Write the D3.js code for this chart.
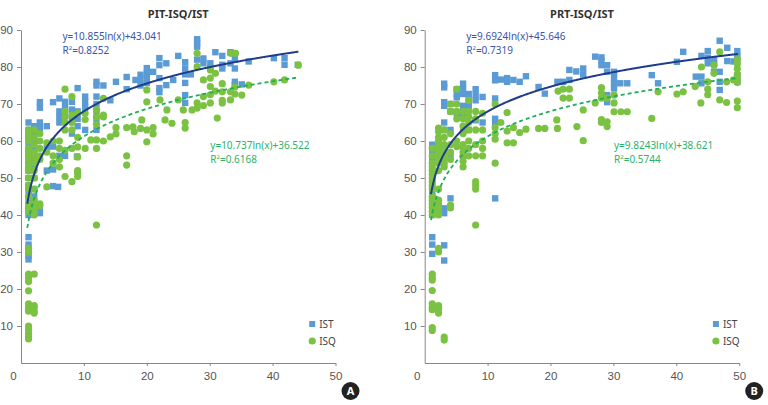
<!DOCTYPE html>
<html>
<head>
<meta charset="utf-8">
<script src="https://cdn.jsdelivr.net/npm/d3@7"></script>
<style>
  body { margin: 0; background: #fff; }
  svg { display: block; font-family: "Noto Sans", "Open Sans", sans-serif; }
  .tick text { fill: #555; font-size: 11.5px; }
  .tick line, .domain { stroke: #888; }
  .title { font-weight: bold; font-size: 11px; fill: #333; }
  .leg { font-size: 10px; fill: #444; }
</style>
</head>
<body>
<svg id="chart" width="768" height="405"></svg>
<script>
// panel titles and tick values
const titles = ["PIT-ISQ/IST", "PRT-ISQ/IST"];
const badges = ["A", "B"];
const xTicks = [0, 10, 20, 30, 40, 50];
const yTicks = [10, 20, 30, 40, 50, 60, 70, 80, 90];
const seriesNames = ["IST", "ISQ"];

// fitted log trend lines: [a, b, R2, xEnd]   y = a*ln(x)+b
const fitPIT_IST = [10.855, 43.041, "0.8252", 44.1];
const fitPIT_ISQ = [10.737, 36.522, "0.6168", 44.1];
const fitPRT_IST = [9.6924, 45.646, "0.7319", 49.8];
const fitPRT_ISQ = [9.8243, 38.621, "0.5744", 49.8];

// [x, y]
const pitIST = [
  [1.2,65],[1.2,63],[1.2,61],[1.2,59],[1.2,57],[1.2,55],[1.2,52],[1.2,50],[1.2,48],[1.2,46],[1.2,44],[1.2,42],[1.2,41],[1.2,40],
  [1.2,34],[1.2,32],[1.2,31],[1.2,30],[1.2,29],[1.2,28],
  [2.1,64],[2.1,62],[2.1,60],[2.1,58],[2.1,56],[2.1,53],[2.1,50],[2.1,47],[2.1,45],[2.1,43],
  [3,70.5],[3,69],[3,65],[3,63.5],[3,41],[3,40.5],
  [4.1,64],[4.1,58],[4.1,52],
  [5.1,70.5],[5.1,58.5],[5.1,52.3],[5.1,47.8],[5.9,47.6],
  [6.1,71.5],[6.1,68],[6.1,66.5],[6.1,65],[6.1,56],
  [7,70.6],[7,69],[7,67],[7,56],
  [8.1,70.6],[8.1,68.5],[8.1,66],[8.1,62],
  [9,74.3],[9,68],[9,66],[9,64],[8.9,55.8],
  [10.2,72],[10.2,70.5],[10.2,69],[10.2,63],
  [12,76],[12,75],[12,72],[12,70],[12,68],[12,66],[12,63],
  [13.1,75],[14.2,71],[15.1,76],[16.8,77.3],[16.8,74],[18.2,76.5],
  [19,77.9],[19,76.5],[19,75],[20,79.7],[20,78.3],[20,77],[20,75.7],[21,78.7],
  [22,82.4],[22,80.5],[22,77],[22,74.3],[22,73.2],[23.1,81],[23.1,75.1],[24.2,76.5],
  [25,83],[26.1,81.3],[26.1,79.6],[26.1,78],[26.1,75.7],[26.1,72.4],[26.1,70.3],[27,78],
  [28,87.5],[28,86.5],[28,85.5],[28,82],[29,82.3],[29,81],[30.1,81],[30.1,79.7],[30.9,84],
  [32,83],[32,80.6],[32,79.6],[33.3,84],[33.3,81],[34,83.6],[34,82],[34,79.6],[34,76],[34,75.1],
  [35.1,75.3],[36.2,81.5],[40.2,82.4],[41.9,82.4],[41.9,80.6],[44,80.6]
];
const pitISQ = [
  [1.2,63],[1.2,62],[1.2,61],[1.2,60],[1.2,58],[1.2,57],[1.2,56],[1.2,55],[1.2,54],[1.2,53],[1.2,52],[1.2,50],
  [1.2,48],[1.2,47],[1.2,45],[1.2,43],[1.2,42],[1.2,41],
  [1.2,31],[1.2,30],[1.2,24],[1.2,23],[1.2,22],[1.2,19.5],[1.2,16],[1.2,15],[1.2,14.5],[1.2,14],
  [1.2,10],[1.2,9],[1.2,8],[1.2,7],[1.2,6.5],
  [2.1,63],[2.1,61],[2.1,59],[2.1,57],[2.1,56],[2.1,55],[2.1,54],[2.1,52],[2.1,50],[2.1,47],
  [2.1,44],[2.1,43],[2.1,42],[2.1,41],[2.1,40],[2.1,24],[2.1,15.5],[2.1,15],[2.1,14],[2.1,13.5],
  [3,62],[3,60],[3,58],[3,56],[3,55],[3,43],[3,42.5],
  [4.1,59.5],[4.1,57],[4.1,47.6],
  [5.1,60],[5.1,56],[5.1,54],
  [6.1,60],[6.1,58],[6.1,55],[6.1,53],
  [7,74],[7,68],[7,66.5],[7,65],[7,63],[7,57.5],[7,50.4],
  [8.1,72],[8.1,67],[8.1,65],[8.1,63],[8.1,58],[8.1,49],
  [9,67.5],[9,61],[9,58.4],[9,55.7],[9,52],[9,51.3],[9,50.4],
  [10.2,67.5],[10.2,65.8],[10.2,58],[11.1,60.3],
  [12,68.5],[12,66.5],[12,64.5],[12,60.3],[12,58],[12,37.3],
  [13.1,71.5],[13.1,67],[13.1,66.5],[13.1,60],[14.2,61.1],[15.1,63.6],[15.1,61.9],
  [16.8,63.6],[16.8,56],[16.8,53.5],[17.8,63.8],[18,62.5],[19.2,65.7],[19,63.4],
  [20,73.8],[20,70.6],[20,63],[20,59.8],[21,63.6],[21,61.9],
  [22.1,71.1],[22.9,65.7],[23.2,68.4],[24,64.8],[25,71.1],[25.8,68.4],[26.1,65],[26.1,63.5],[27.2,68.4],
  [28,83.7],[28,80.1],[28,70.3],[28,68.9],[29,76.5],[29,72],[29,69.6],
  [30.1,79.2],[30.1,77],[30.1,74.7],[30.1,72.5],[30.1,70.3],[30.9,78.3],[30.9,73.5],[31.2,66.2],
  [32,75.5],[32,73.3],[32,71],[32,70.3],[33.3,83.7],[34.1,83.7],[33.3,73.3],[33.3,71.1],
  [34,74.6],[34,72.7],[35.1,72.4],[36.2,75.1],[40.2,76],[41.9,76.5],[44.1,80.5]
];
const prtIST = [
  [1.2,59],[1.2,57],[1.2,55],[1.2,53],[1.2,51],[1.2,50],[1.2,48],[1.2,46],[1.2,45],[1.2,44],[1.2,43],[1.2,41],[1.2,40],
  [1.2,34],[1.2,32],[1.2,29.5],
  [2.2,59.5],[2.2,58],
  [3.1,75.5],[3.1,74.5],[3.1,70.5],[3.1,69.5],[3.1,65],[3.1,63],[3.1,56],[3.1,41.8],[3.1,40.5],[3.1,31.8],[3.1,27.7],
  [4.1,70],[4.1,68],[4.1,63],[4.1,56],[4.1,44.5],
  [5.1,74],[5.1,72.7],[5.1,71.8],[5.1,67.5],
  [6.1,75.5],[6.1,74],[6.1,72.7],[6.1,69.5],[6.1,68],[6.1,66.8],[6.1,62.5],[6.1,56],
  [7,72.7],[7,71],[7,69.5],[7,63],
  [8.1,74],[8.1,72.5],[8.1,71],[8.1,65.6],
  [9.2,71.9],[9.2,65],
  [11.2,77.8],[11.2,76.4],[11.2,71.5],[11.2,66],[11.2,65],[11.2,44.5],
  [12.1,76.6],[13.1,77],[13.1,76],[14.1,76.5],[15.1,76],[16.1,77.5],
  [18.1,74.6],[19.1,72.8],[21.1,76],[22,76],[23,79.2],[23,76.5],[24.1,78.8],[25.2,79.6],[25.2,78],
  [27.1,82.8],[28.1,82.6],[28.1,81.6],[28.1,80.5],[29,80.5],[29,78.7],[29,72.4],[29,70.5],
  [30.1,78.7],[30.1,77],[30.1,75.5],[30.1,74.2],[31.1,75.6],[32.2,75.6],
  [36.1,77.8],[37.1,75.6],[40.1,81.4],[41.1,84.1],
  [43.1,77.4],[44,83],[44,77.4],[44,75.6],[45,84.3],[45,82.5],[45,81],[46,81.9],[46,81],[46,78.7],
  [46.9,87.1],[46.9,78.7],[46.9,76],[46.9,73.8],[48.1,85.2],[48.1,81.6],[49.1,81.5],
  [49.7,84.3],[49.7,83],[49.7,81.7],[49.7,77.8],[49.7,76]
];
const prtISQ = [
  [1.2,58],[1.2,56],[1.2,54],[1.2,53],[1.2,52],[1.2,51],[1.2,50],[1.2,49],[1.2,48],[1.2,47],[1.2,45],[1.2,44],
  [1.2,43],[1.2,42],[1.2,41],[1.2,40],[1.2,24],[1.2,23],[1.2,22.4],[1.2,19.6],[1.2,16],[1.2,15],[1.2,14.4],[1.2,9.6],[1.2,8.8],
  [2.2,63.5],[2.2,62.5],[2.2,61],[2.2,60],[2.2,59],[2.2,58],[2.2,57],[2.2,56],[2.2,55],[2.2,54],[2.2,52],[2.2,47],
  [2.2,44],[2.2,43],[2.2,42],[2.2,41],[2.2,40],[2.2,31],[2.2,30],[2.2,15.5],[2.2,15],[2.2,14.5],[2.2,13.5],
  [3.1,63],[3.1,61],[3.1,59],[3.1,58],[3.1,57],[3.1,56],[3.1,55],[3.1,54],[3.1,53],[3.1,7],[3.1,6.2],
  [4.1,70],[4.1,68],[4.1,62],[4.1,59],[4.1,57],[4.1,55],[4.1,42.7],[4.1,41.9],
  [5.1,74],[5.1,70],[5.1,68],[5.1,66],[5.1,60],[5.1,58.5],
  [6.1,68],[6.1,66],[6.1,64],[6.1,62],[6.1,59],[6.1,58],[6.1,57],[6.1,56],[6.1,54.5],[6.1,53],
  [7,71],[7,68],[7,66.5],[7,65],[7,63],[7,60],[7,58],[7,56],
  [8.1,68],[8.1,66],[8.1,63],[8.1,59],[8.1,56],[8.1,49],[8.1,48],[8.1,47],[8.1,37.3],
  [9.2,67.5],[9.2,63],[9.2,60],[9.2,58],[9.2,56],
  [11.2,70],[11.2,63.6],[11.2,62],[11.2,60.5],[11.2,54],
  [12.1,65],[13.1,67.7],[13.1,62.7],[13.1,59.5],[14.1,63.6],[14.1,59.5],[15.1,62.3],[16.1,63.2],
  [18.1,63.4],[19.1,63.4],[21,65.7],[21.1,63.4],[21.2,73.5],[22,74],[22,71.6],[23,74],[23,71.6],
  [24.2,63.9],[25.2,68.4],[25.2,60.1],[27.1,70.3],[28.1,74.4],[28.1,73],[28.1,71.6],[28.1,65.8],[28.1,65],
  [29,71.6],[29,65.2],[29,63.9],[30.1,72.4],[30.1,70.3],[30.1,67.9],[31.2,67.9],[32.2,67.9],
  [36.1,66.1],[37.1,73.3],[40.1,72.7],[41.1,73.3],[43,74.7],[44,80],[43.9,70.3],
  [45,76],[45,74],[45,72.5],[46,80.5],[46,78.3],[46.9,84.1],[46.9,71.1],
  [48,76],[48,70.4],[49.1,76.5],
  [49.7,82],[49.7,80.8],[49.7,79.5],[49.7,78],[49.7,76.8],[49.7,75.8],[49.7,70.8],[49.7,69]
];

const svg = d3.select("#chart");
const blue = "#5b9bd5";
const green = "#7cc242";
const lineBlue = "#1f3d8c";
const lineGreen = "#1fae5a";

function drawPanel(x0, title, badge, ist, isq, fitIst, fitIsq) {
  const xScale = d3.scaleLinear().domain([0, 50]).range([x0, x0 + 314.5]);
  const yScale = d3.scaleLinear().domain([0, 90]).range([363, 30]);
  const g = svg.append("g");

  // axes
  const xAxisG = g.append("g")
    .attr("transform", `translate(0,${yScale(0)})`)
    .call(d3.axisBottom(xScale).tickValues(xTicks).tickSize(3).tickPadding(6).tickSizeOuter(0));
  xAxisG.selectAll(".tick text").filter((d) => d === 0).attr("dx", -8);
  xAxisG.selectAll(".tick").filter((d) => d === 0).select("line").remove();

  g.append("g")
    .attr("transform", `translate(${xScale(0)},0)`)
    .call(d3.axisLeft(yScale).tickValues(yTicks).tickSize(4).tickPadding(4).tickSizeOuter(0));

  g.append("text").attr("class", "title")
    .attr("x", xScale(25)).attr("y", 18).attr("text-anchor", "middle").text(title);

  // points
  g.selectAll("rect.ist").data(ist).enter().append("rect")
    .attr("class", "ist")
    .attr("x", (d) => xScale(d[0]) - 3.2)
    .attr("y", (d) => yScale(d[1]) - 3.2)
    .attr("width", 6.4).attr("height", 6.4)
    .attr("fill", blue);

  g.selectAll("circle.isq").data(isq).enter().append("circle")
    .attr("class", "isq")
    .attr("cx", (d) => xScale(d[0]))
    .attr("cy", (d) => yScale(d[1]))
    .attr("r", 3.6)
    .attr("fill", green);

  // trend lines
  const curve = (fit) => d3.range(1, fit[3] + 0.001, 0.1).map((x) => [x, fit[0] * Math.log(x) + fit[1]]);
  const line = d3.line().x((d) => xScale(d[0])).y((d) => yScale(d[1]));
  g.append("path").attr("d", line(curve(fitIst)))
    .attr("fill", "none").attr("stroke", lineBlue).attr("stroke-width", 2);
  g.append("path").attr("d", line(curve(fitIsq)))
    .attr("fill", "none").attr("stroke", lineGreen).attr("stroke-width", 1.8)
    .attr("stroke-dasharray", "4,3");

  // equations
  const eq = (fit, x, y, color) => {
    const t = g.append("text").attr("x", x).attr("y", y).attr("fill", color).attr("font-size", "10px");
    t.append("tspan").text(`y=${fit[0]}ln(x)+${fit[1]}`);
    const r = t.append("tspan").attr("x", x).attr("dy", 14);
    r.append("tspan").text("R");
    r.append("tspan").attr("font-size", "6px").attr("dy", -4).text("2");
    r.append("tspan").attr("dy", 4).text("=" + fit[2]);
  };
  eq(fitIst, xScale(6.6), 40, "#3b55a8");
  eq(fitIsq, xScale(30.1), 149, "#2cb26a");

  // legend
  const lx = xScale(46.3);
  g.append("rect").attr("x", lx - 3).attr("y", 321).attr("width", 6).attr("height", 6).attr("fill", blue);
  g.append("text").attr("class", "leg").attr("x", lx + 7).attr("y", 327.5).text(seriesNames[0]);
  g.append("circle").attr("cx", lx).attr("cy", 341).attr("r", 3.6).attr("fill", green);
  g.append("text").attr("class", "leg").attr("x", lx + 7).attr("y", 344.5).text(seriesNames[1]);

  // panel badge
  const bx = xScale(50) + 15;
  g.append("circle").attr("cx", bx).attr("cy", 391).attr("r", 9).attr("fill", "#222");
  g.append("text").attr("x", bx).attr("y", 395).attr("text-anchor", "middle")
    .attr("fill", "#fff").attr("font-size", "11px").attr("font-weight", "bold").text(badge);
}

drawPanel(21, titles[0], badges[0], pitIST, pitISQ, fitPIT_IST, fitPIT_ISQ);
drawPanel(424.7, titles[1], badges[1], prtIST, prtISQ, fitPRT_IST, fitPRT_ISQ);
</script>
</body>
</html>
